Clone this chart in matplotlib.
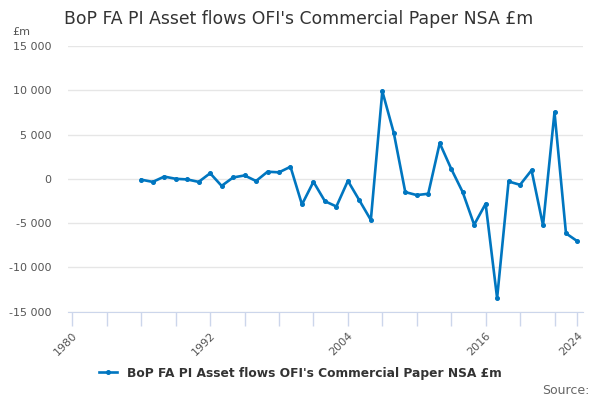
import matplotlib.pyplot as plt

years = list(range(1986, 2025))
values = [-100, -350, 250, 0, -70, -350, 630, -800, 150, 380,
          -250, 800, 730, 1360, -2900, -340, -2530, -3130, -230, -2430,
          -4650, 9890, 5180, -1500, -1840, -1690, 4030, 1130, -1500, -5190,
          -2820, -13480, -300, -680, 970, -5260, 7520, -6160, -7060]

x_ticks = list(range(1980, 2023, 3)) + [2024]
x_labels = ["1980", "1992", "2004", "2016", "2024"]
y_ticks = [-15000, -10000, -5000, 0, 5000, 10000, 15000]
series_name = "BoP FA PI Asset flows OFI's Commercial Paper NSA £m"

fig = plt.figure(figsize=(6, 4), dpi=100)
ax = fig.add_axes([0.113, 0.221, 0.859, 0.664])

ax.plot(years, values, color="#0076c0", linewidth=1.9, marker="o", markersize=2.6,
        label=series_name)

ax.set_xlim(1979.6, 2024.5)
ax.set_ylim(-15000, 15000)
ax.set_yticks(y_ticks)
ax.set_yticklabels([f"{v:,}".replace(",", " ") for v in y_ticks],
                   fontsize=8, color="#555555")
ax.set_xticks(x_ticks)
ax.set_xticklabels([str(t) if str(t) in x_labels else "" for t in x_ticks],
                   rotation=45, ha="right", rotation_mode="anchor",
                   fontsize=8, color="#555555")
ax.tick_params(axis="x", length=10, color="#ccd6eb", width=1)
ax.tick_params(axis="y", length=0, pad=12)

ax.grid(axis="y", color="#e6e6e6", linewidth=1)
ax.set_axisbelow(True)
for s in ["top", "right", "left"]:
    ax.spines[s].set_visible(False)
ax.spines["bottom"].set_color("#ccd6eb")

fig.text(0.497, 0.953, series_name, ha="center", va="center", fontsize=12.4, color="#333333")
fig.text(0.02, 0.92, "£m", fontsize=8, color="#555555", va="center")

leg = fig.legend(loc="center", bbox_to_anchor=(0.5, 0.067), frameon=False,
                 prop={"weight": "bold", "size": 8.8}, handlelength=1.5)
for t in leg.get_texts():
    t.set_color("#333333")

fig.text(0.982, 0.025, "Source:", ha="right", va="center", fontsize=9, color="#666666")

fig.savefig("out.png", dpi=100)
